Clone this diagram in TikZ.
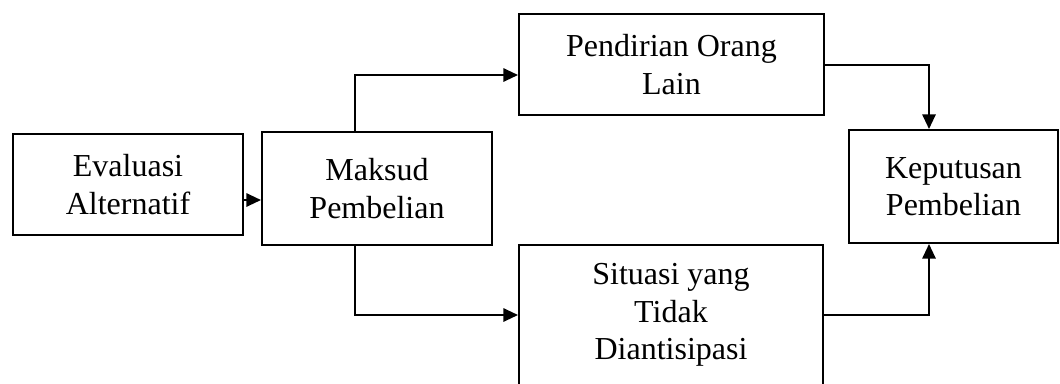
\documentclass[tikz,border=0pt]{standalone}
\usepackage{fontspec}
\setmainfont{Liberation Serif}
\usetikzlibrary{arrows.meta}

\begin{document}
\begin{tikzpicture}[x=0.75pt, y=-0.75pt, >={Triangle[length=11pt, width=10pt]}]
% --- Global Styles ---
\tikzstyle{box} = [draw, line width=1.5pt, align=center, inner sep=0pt, font=\fontsize{24}{28}\selectfont]
\tikzstyle{arrow} = [->, line width=1.5pt]

% --- Frame ---
\useasboundingbox (0,0) rectangle (1060,383);
\clip (0,0) rectangle (1060,383);

% --- Branch Offsets ---
\def\mx{355}   % branch line below/above Maksud
\def\kx{929}   % joining line into Keputusan
\coordinate (mx) at (\mx,0);
\coordinate (kx) at (\kx,0);
\coordinate (ey) at (0,200);
\coordinate (py) at (0,75);

% ==========================================
% BOXES
% ==========================================
\node[box, minimum width=172.5pt, minimum height=75.75pt] (evaluasi) at (128,184.5) {Evaluasi\\Alternatif};
\node[box, minimum width=172.5pt, minimum height=84.75pt] (maksud) at (377,188.5) {Maksud\\Pembelian};
\node[box, minimum width=228.75pt, minimum height=75.75pt] (pendirian) at (671.5,64.5) {Pendirian Orang\\Lain};
\node[box, minimum width=228pt, minimum height=105pt] (situasi) at (671,315) {Situasi yang\\Tidak\\Diantisipasi};
\node[box, minimum width=156.75pt, minimum height=84.75pt] (keputusan) at (953.5,186.5) {Keputusan\\Pembelian};

% ==========================================
% CONNECTORS
% ==========================================
\draw[arrow] (evaluasi.east |- ey) -- (maksud.west |- ey);

% Maksud splits up and down
\draw[arrow] (maksud.north -| mx) |- (pendirian.west |- py);
\draw[arrow] (maksud.south -| mx) |- (situasi.west);

% Both join into Keputusan
\draw[arrow] (pendirian.east) -| (keputusan.north -| kx);
\draw[arrow] (situasi.east) -| (keputusan.south -| kx);

\end{tikzpicture}
\end{document}
